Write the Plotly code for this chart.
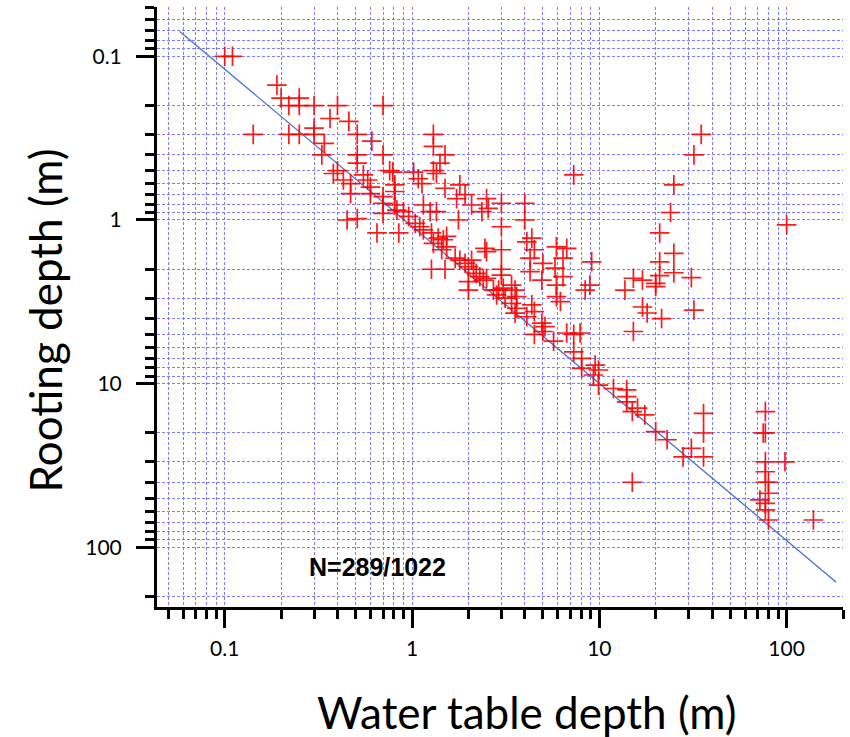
import plotly.graph_objects as go

# Water table depth (m) and rooting depth (m) for each observation
water_table = [
    0.10, 0.11, 0.19, 0.20, 0.22, 0.25, 0.25, 0.30, 0.40, 0.70, 0.365, 0.46, 0.142, 0.22, 0.25, 0.30,
    0.30, 0.51, 0.61, 0.34, 0.33, 0.51, 0.70, 0.51, 0.40, 0.38, 0.43, 0.47, 0.47, 0.55, 0.58, 0.60,
    0.60, 0.76, 0.79, 0.81, 0.81, 0.70, 0.70, 0.81, 0.70, 0.83, 0.45, 0.51, 0.65, 0.85, 1.3, 1.3,
    1.13, 1.5, 1.8, 1.73, 1.92, 2.08, 2.5, 2.55, 3.0, 4.0, 1.15, 1.25, 1.35, 0.90, 0.96, 1.04,
    1.10, 1.15, 1.27, 1.3, 1.38, 1.47, 1.53, 1.53, 1.44, 1.77, 3.0, 3.0, 2.45, 2.5, 4.36, 4.1,
    4.5, 4.27, 5.0, 5.9, 5.8, 1.27, 1.5, 1.7, 1.8, 1.92, 2.0, 2.08, 2.13, 2.2, 2.3, 2.4,
    2.5, 2.0, 2.0, 3.0, 3.0, 2.72, 2.9, 3.07, 3.4, 3.55, 2.83, 3.14, 3.62, 3.4, 3.62, 3.55,
    4.36, 4.5, 4.1, 4.93, 5.9, 5.9, 4.93, 5.13, 4.0, 2.36, 4.27,
    1.5, 1.41, 1.3, 1.35, 1.02, 1.08, 7.3, 9.1, 8.9, 8.4, 6.7, 6.4, 6.4, 15.2, 13.7, 5.0, 4.5,
    35, 32, 25, 24, 100, 21, 25, 21, 21, 25, 31, 17, 20, 20,
    6.2, 17, 18, 21.5, 32, 15.2, 6.7, 7.3, 7.9, 5.7, 7.3, 8.05, 8.05, 9.5, 9.9, 9.3,
    9.9, 11.9, 14, 14, 14, 16, 15, 17.5, 36, 36, 36, 20, 23, 31, 28, 15,
    77, 77, 75, 77, 98, 77, 77, 80, 80, 72, 77, 77, 80, 139,
]
rooting_depth = [
    0.10, 0.10, 0.15, 0.18, 0.20, 0.18, 0.20, 0.20, 0.20, 0.20, 0.24, 0.25, 0.30, 0.30, 0.30, 0.30,
    0.275, 0.30, 0.33, 0.34, 0.40, 0.40, 0.40, 0.45, 0.50, 0.52, 0.57, 0.60, 0.69, 0.53, 0.57, 0.63,
    0.69, 0.50, 0.51, 0.61, 0.67, 0.72, 0.79, 0.81, 0.91, 0.87, 1.0, 0.98, 1.2, 1.2, 0.30, 0.355,
    0.60, 0.64, 0.61, 0.74, 0.70, 0.81, 0.74, 0.85, 0.79, 0.79, 0.81, 0.89, 0.89, 0.89, 0.95, 1.05,
    1.10, 1.15, 1.2, 1.39, 1.29, 1.32, 1.26, 1.46, 1.52, 1.0, 1.1, 1.52, 1.49, 1.56, 1.29, 1.36,
    1.52, 1.71, 1.84, 1.46, 1.97, 2.0, 2.0, 1.71, 1.76, 1.84, 1.93, 1.76, 2.0, 2.12, 2.22, 2.33,
    2.27, 2.38, 2.68, 2.0, 2.17, 2.68, 2.68, 2.61, 2.5, 2.68, 2.87, 3.0, 2.94, 3.23, 3.46, 3.71,
    3.3, 3.63, 3.9, 2.33, 2.5, 2.94, 4.27, 4.48, 1.0, 0.89, 2.07,
    0.40, 0.45, 0.50, 0.52, 0.51, 0.56, 0.53, 1.8, 2.5, 2.68, 1.49, 1.71, 2.22, 2.27, 2.68, 4.8, 5.0,
    0.30, 0.40, 0.61, 0.90, 1.07, 1.2, 1.6, 1.8, 2.19, 2.1, 2.25, 2.33, 2.44, 2.55,
    3.15, 3.4, 3.7, 4.0, 3.55, 4.8, 4.9, 5.0, 4.9, 5.5, 6.4, 7.0, 8.05, 7.7, 8.25, 8.85,
    10.2, 10.7, 10.9, 12, 12.9, 14.1, 14.8, 15.5, 15.2, 20, 28, 19.6, 22, 24.8, 28, 40,
    14.8, 20, 20, 30, 30, 34.5, 40, 40, 46.7, 51.3, 53.8, 59, 68, 68,
]

# Fitted line end points
fit_x = [0.0575, 184]
fit_y = [0.0705, 163]

sample_label = "N=289/1022"

x_range = [-1.3615, 2.301]
y_range = [2.364, -1.301]

grid_col = "rgb(125,125,255)"
grid_dash = "3px,2px"
tick_font = dict(family="Gill Sans, Lato, sans-serif", size=21, color="black")
title_font = dict(family="Gill Sans, Lato, sans-serif", size=44, color="black")

fig = go.Figure()
fig.add_trace(go.Scatter(
    x=fit_x, y=fit_y, mode="lines",
    line=dict(color="rgb(70,115,200)", width=1.3),
    showlegend=False, hoverinfo="skip",
))
fig.add_trace(go.Scatter(
    x=water_table, y=rooting_depth, mode="markers",
    marker=dict(symbol="cross-thin", size=14, color="red",
                line=dict(color="rgba(255,0,0,0.9)", width=1.7)),
    showlegend=False,
))


def axis_style():
    return dict(
        type="log",
        tickmode="linear", tick0=0, dtick=1, exponentformat="none",
        ticks="outside", ticklen=18, tickwidth=3, tickcolor="black",
        showline=True, linecolor="black", linewidth=3, mirror=False,
        showgrid=True, gridcolor=grid_col, griddash=grid_dash, gridwidth=1,
        tickfont=tick_font,
        minor=dict(dtick="D1", ticks="outside", ticklen=9, tickwidth=2.5,
                   tickcolor="black", showgrid=True, gridcolor=grid_col,
                   griddash=grid_dash, gridwidth=1),
        zeroline=False,
    )


xa = axis_style()
xa.update(range=x_range, ticklabelstandoff=3)
ya = axis_style()
ya.update(range=y_range, ticklabelstandoff=10)

fig.update_layout(
    width=850, height=737,
    margin=dict(l=157, r=7, t=7, b=130),
    paper_bgcolor="white", plot_bgcolor="white",
    xaxis=xa, yaxis=ya,
    annotations=[
        dict(text="<b>" + sample_label + "</b>", xref="paper", yref="paper",
             x=0.322, y=0.0667, showarrow=False, xanchor="center", yanchor="middle",
             font=dict(family="Liberation Sans, Arial, sans-serif", size=25, color="black")),
        dict(text="Water table depth (m)", xref="paper", yref="paper", x=0.538, y=-0.175,
             showarrow=False, xanchor="center", yanchor="middle", font=title_font),
        dict(text="Rooting depth (m)", xref="paper", yref="paper", x=-0.163, y=0.478,
             showarrow=False, xanchor="center", yanchor="middle", textangle=-90,
             font=title_font),
    ],
)

fig.write_html("out.html")
